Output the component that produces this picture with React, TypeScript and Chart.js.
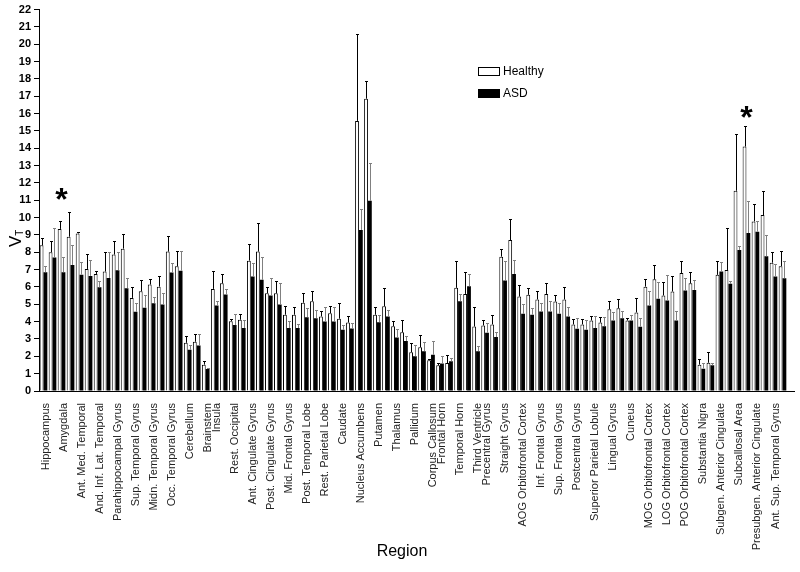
import React, { useEffect, useRef } from 'react';
import { Chart, registerables } from 'chart.js';

Chart.register(...registerables);

// One entry per bar pair (left / right hemisphere); the label is shown on the first pair of each region.
const categories = [
  'Hippocampus', 'Hippocampus',
  'Amygdala', 'Amygdala',
  'Ant. Med. Temporal', 'Ant. Med. Temporal',
  'And. Inf. Lat. Temporal', 'And. Inf. Lat. Temporal',
  'Parahippocampal Gyrus', 'Parahippocampal Gyrus',
  'Sup. Temporal Gyrus', 'Sup. Temporal Gyrus',
  'Midn. Temporal Gyrus', 'Midn. Temporal Gyrus',
  'Occ. Temporal Gyrus', 'Occ. Temporal Gyrus',
  'Cerebellum', 'Cerebellum',
  'Brainstem',
  'Insula', 'Insula',
  'Rest. Occipital', 'Rest. Occipital',
  'Ant. Cingulate Gyrus', 'Ant. Cingulate Gyrus',
  'Post. Cingulate Gyrus', 'Post. Cingulate Gyrus',
  'Mid. Frontal Gyrus', 'Mid. Frontal Gyrus',
  'Post. Temporal Lobe', 'Post. Temporal Lobe',
  'Rest. Parietal Lobe', 'Rest. Parietal Lobe',
  'Caudate', 'Caudate',
  'Nucleus Accumbens', 'Nucleus Accumbens',
  'Putamen', 'Putamen',
  'Thalamus', 'Thalamus',
  'Pallidum', 'Pallidum',
  'Corpus Callosum',
  'Frontal Horn', 'Frontal Horn',
  'Temporal Horn', 'Temporal Horn',
  'Third Ventricle',
  'Precentral Gyrus', 'Precentral Gyrus',
  'Straight Gyrus', 'Straight Gyrus',
  'AOG Orbitofrontal Cortex', 'AOG Orbitofrontal Cortex',
  'Inf. Frontal Gyrus', 'Inf. Frontal Gyrus',
  'Sup. Frontal Gyrus', 'Sup. Frontal Gyrus',
  'Postcentral Gyrus', 'Postcentral Gyrus',
  'Superior Parietal Lobule', 'Superior Parietal Lobule',
  'Lingual Gyrus', 'Lingual Gyrus',
  'Cuneus', 'Cuneus',
  'MOG Orbitofrontal Cortex', 'MOG Orbitofrontal Cortex',
  'LOG Orbitofrontal Cortex', 'LOG Orbitofrontal Cortex',
  'POG Orbitofrontal Cortex', 'POG Orbitofrontal Cortex',
  'Substantia Nigra', 'Substantia Nigra',
  'Subgen. Anterior Cingulate', 'Subgen. Anterior Cingulate',
  'Subcallosal Area', 'Subcallosal Area',
  'Presubgen. Anterior Cingulate', 'Presubgen. Anterior Cingulate',
  'Ant. Sup. Temporal Gyrus', 'Ant. Sup. Temporal Gyrus',
];

const healthy = [
  8.4, 8.0, 9.35, 8.9, 9.09, 7.04, 6.75, 6.89, 7.87, 8.21,
  5.37, 5.75, 6.14, 6.02, 8.04, 7.19, 2.78, 2.84, 1.52, 5.89,
  6.21, 4.03, 4.11, 7.52, 8.04, 5.64, 5.64, 4.4, 4.4, 5.09,
  5.18, 4.3, 4.49, 4.17, 3.95, 15.58, 16.86, 4.4, 4.89, 3.74,
  3.39, 2.24, 2.53, 1.77, 1.48, 1.61, 5.95, 5.6, 3.72, 3.78,
  3.84, 7.75, 8.71, 5.45, 5.55, 5.28, 5.6, 5.16, 5.28, 3.84,
  3.84, 4.07, 3.95, 4.72, 4.78, 4.07, 4.53, 6.02, 6.44, 5.51,
  5.74, 6.81, 6.21, 1.52, 1.63, 6.7, 6.98, 11.55, 14.1, 9.78,
  10.15, 7.4, 7.2,
];

const healthySD = [
  0.45, 0.65, 0.47, 1.4, 0.06, 0.86, 0.15, 1.15, 0.76, 0.86,
  0.61, 0.66, 0.33, 0.64, 0.92, 0.87, 0.42, 0.46, 0.19, 1.05,
  0.54, 0.15, 0.34, 0.96, 1.63, 0.34, 0.69, 0.53, 0.43, 0.57,
  0.61, 0.29, 0.4, 0.89, 0.35, 5.02, 1.02, 0.47, 1.04, 0.27,
  0.68, 0.52, 0.71, 0.09, 0.12, 0.48, 1.57, 1.29, 1.11, 0.29,
  0.52, 0.44, 1.24, 0.69, 0.4, 0.46, 0.61, 0.35, 0.74, 0.29,
  0.29, 0.23, 0.31, 0.5, 0.54, 0.15, 0.84, 0.45, 0.81, 0.8,
  0.92, 0.71, 0.64, 0.34, 0.61, 0.78, 2.4, 3.26, 1.19, 1.0,
  1.36, 0.6, 0.9,
];

const asd = [
  6.85, 7.7, 6.85, 7.27, 6.71, 6.64, 5.98, 6.52, 6.96, 5.93,
  4.57, 4.8, 5.06, 4.99, 6.83, 6.94, 2.38, 2.63, 1.27, 4.93,
  5.56, 3.8, 3.63, 6.6, 6.41, 5.51, 4.99, 3.63, 3.63, 4.26,
  4.2, 4.01, 4.01, 3.53, 3.6, 9.29, 10.97, 3.97, 4.3, 3.09,
  2.88, 2.01, 2.3, 2.09, 1.58, 1.71, 5.18, 6.04, 2.3, 3.36,
  3.11, 6.37, 6.75, 4.45, 4.4, 4.59, 4.59, 4.45, 4.3, 3.59,
  3.53, 3.63, 3.74, 4.07, 4.2, 4.07, 3.71, 4.93, 5.32, 5.22,
  4.07, 5.8, 5.83, 1.29, 1.48, 6.9, 6.18, 8.13, 9.11, 9.19,
  7.77, 6.6, 6.5,
];

const asdSD = [
  0.35, 1.7, 0.86, 1.17, 0.71, 0.94, 0.39, 1.52, 1.08, 0.59,
  0.52, 0.76, 0.39, 0.69, 0.54, 1.16, 0.25, 0.63, 0.06, 0.29,
  0.33, 0.65, 0.44, 0.77, 1.34, 1.01, 1.25, 0.38, 0.25, 0.52,
  0.48, 0.86, 0.81, 0.27, 0.35, 1.2, 2.17, 0.39, 0.38, 0.46,
  0.27, 0.62, 0.52, 0.77, 0.42, 0.19, 0.42, 0.71, 0.27, 0.58,
  0.29, 1.15, 0.83, 0.54, 0.4, 0.47, 0.63, 0.61, 0.53, 0.63,
  0.54, 0.67, 0.52, 0.48, 0.39, 0.34, 0.51, 0.82, 0.95, 1.49,
  0.53, 0.7, 0.58, 0.32, 0.13, 0.52, 0.19, 0.21, 1.86, 0.59,
  1.23, 0.7, 1.0,
];

const seriesNames = ['Healthy', 'ASD'];
const starIndices = [2, 78];
const starValues = [11.37, 16.1];
const yMin = 0;
const yMax = 22;
const yStep = 1;

const errorBarsPlugin = {
  id: 'errorBars',
  afterDatasetsDraw(chart: any) {
    const ctx = chart.ctx;
    const ys = chart.scales.y;
    chart.data.datasets.forEach((ds: any, di: number) => {
      const meta = chart.getDatasetMeta(di);
      const sds = di === 0 ? healthySD : asdSD;
      ctx.save();
      ctx.strokeStyle = di === 0 ? '#000000' : '#808080';
      ctx.lineWidth = 1;
      meta.data.forEach((bar: any, i: number) => {
        const v = ds.data[i];
        const top = Math.round(ys.getPixelForValue(v + sds[i])) + 0.5;
        const x = Math.round(bar.x) + 0.5;
        ctx.beginPath();
        ctx.moveTo(x, bar.y);
        ctx.lineTo(x, top);
        ctx.moveTo(x - 1.5, top);
        ctx.lineTo(x + 1.5, top);
        ctx.stroke();
      });
      ctx.restore();
    });
  },
};

const extrasPlugin = {
  id: 'extras',
  afterDraw(chart: any) {
    const ctx = chart.ctx;
    const xs = chart.scales.x;
    const ys = chart.scales.y;
    const area = chart.chartArea;
    ctx.save();
    // x axis line runs a little past the last bar
    ctx.strokeStyle = '#000';
    ctx.lineWidth = 1;
    ctx.beginPath();
    ctx.moveTo(area.right - 1, Math.round(area.bottom) + 0.5);
    ctx.lineTo(area.right + 8, Math.round(area.bottom) + 0.5);
    ctx.stroke();
    // significance stars
    ctx.fillStyle = '#000';
    ctx.font = 'bold 32px "Liberation Sans", Arial, sans-serif';
    ctx.textAlign = 'center';
    ctx.textBaseline = 'alphabetic';
    starIndices.forEach((idx, k) => {
      const m = ctx.measureText('*');
      const cx = xs.getPixelForValue(idx);
      const cy = ys.getPixelForValue(starValues[k]);
      const baseline = cy + (m.actualBoundingBoxAscent - m.actualBoundingBoxDescent) / 2;
      ctx.fillText('*', cx, baseline);
    });
    // legend
    const lx = 478;
    const ly = [67, 89];
    ctx.font = '12px "Liberation Sans", Arial, sans-serif';
    ctx.textAlign = 'left';
    ctx.textBaseline = 'middle';
    seriesNames.forEach((name, k) => {
      ctx.fillStyle = k === 0 ? '#ffffff' : '#000000';
      ctx.fillRect(lx, ly[k], 22, 9);
      ctx.strokeStyle = '#000';
      ctx.lineWidth = 1;
      ctx.strokeRect(lx + 0.5, ly[k] + 0.5, 21, 8);
      ctx.fillStyle = '#000';
      ctx.fillText(name, lx + 25, ly[k] + 4.5);
    });
    // x title
    ctx.font = '16px "Liberation Sans", Arial, sans-serif';
    ctx.textAlign = 'center';
    ctx.textBaseline = 'middle';
    ctx.fillText('Region', 402, 552);
    // y title V_T
    ctx.translate(16, 240);
    ctx.rotate(-Math.PI / 2);
    ctx.textAlign = 'left';
    ctx.textBaseline = 'middle';
    ctx.font = '17px "Liberation Sans", Arial, sans-serif';
    ctx.fillText('V', -7, 0);
    const vw = ctx.measureText('V').width;
    ctx.font = '10px "Liberation Sans", Arial, sans-serif';
    ctx.fillText('T', -7 + vw, 4);
    ctx.restore();
  },
};

export default function App() {
  const ref = useRef<HTMLCanvasElement | null>(null);
  useEffect(() => {
    if (!ref.current) return;
    const chart = new Chart(ref.current, {
      type: 'bar',
      data: {
        labels: categories,
        datasets: [
          {
            label: seriesNames[0],
            data: healthy,
            backgroundColor: '#ffffff',
            borderColor: '#000000',
            borderWidth: 1,
            categoryPercentage: 0.85,
            barPercentage: 1.0,
          },
          {
            label: seriesNames[1],
            data: asd,
            backgroundColor: '#000000',
            borderColor: '#000000',
            borderWidth: 0,
            categoryPercentage: 0.85,
            barPercentage: 1.0,
          },
        ],
      },
      options: {
        animation: false,
        responsive: true,
        maintainAspectRatio: false,
        layout: { padding: { top: 8, right: 13, left: 0, bottom: 0 } },
        plugins: { legend: { display: false }, tooltip: { enabled: false } },
        scales: {
          x: {
            grid: { display: false },
            border: { display: true, color: '#000', width: 1 },
            ticks: {
              autoSkip: false,
              maxRotation: 90,
              minRotation: 90,
              padding: 4,
              labelOffset: 2,
              color: '#222',
              font: { family: '"Liberation Sans", Arial, sans-serif', size: 11 },
              callback: (_v: any, i: number) =>
                i === 0 || categories[i] !== categories[i - 1] ? categories[i] : '',
            },
            afterFit: (s: any) => {
              s.height = 181;
            },
          },
          y: {
            min: yMin,
            max: yMax,
            grid: { display: true, drawOnChartArea: false, tickLength: 5, color: '#000' },
            border: { display: true, color: '#000', width: 1 },
            ticks: {
              stepSize: yStep,
              padding: 3,
              color: '#000',
              font: { family: '"Liberation Sans", Arial, sans-serif', size: 11, weight: 'bold' },
            },
            afterFit: (s: any) => {
              s.width = 39;
            },
          },
        },
      },
      plugins: [errorBarsPlugin, extrasPlugin],
    } as any);
    return () => chart.destroy();
  }, []);
  return (
    <div style={{ position: 'absolute', left: 0, top: 0, width: 800, height: 572, background: '#fff' }}>
      <canvas ref={ref} />
    </div>
  );
}
